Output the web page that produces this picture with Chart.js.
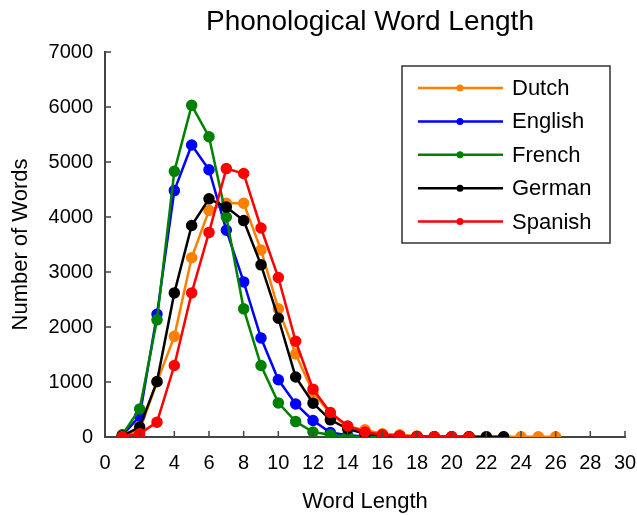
<!DOCTYPE html>
<html>
<head>
<meta charset="utf-8">
<script src="https://cdn.jsdelivr.net/npm/chart.js@4.4.1/dist/chart.umd.min.js"></script>
<style>
  body { margin: 0; background: #fff; }
  #wrap { width: 637px; height: 515px; }
</style>
</head>
<body>
<div id="wrap"><canvas id="myChart" width="637" height="515"></canvas></div>
<script>
// word length (x) values
const wordLengths = [1, 2, 3, 4, 5, 6, 7, 8, 9, 10, 11, 12, 13, 14, 15, 16, 17, 18, 19, 20, 21, 22, 23, 24, 25, 26]

const languages = ['Dutch', 'English', 'French', 'German', 'Spanish']
const colors = ['#ff8000', '#0000ff', '#008000', '#000000', '#ff0000']

// number of words per length
const dutch   = [30, 120, 1000, 1830, 3260, 4120, 4250, 4250, 3400, 2330, 1510, 810, 420, 190, 130, 60, 40, 20, 10, 10, 8, 6, 5, 5, 5, 5]
const english = [30, 380, 2230, 4480, 5310, 4860, 3760, 2820, 1800, 1040, 600, 300, 80, 30, 10, 5, 3, 2]
const french  = [40, 510, 2130, 4830, 6030, 5460, 4000, 2330, 1300, 620, 280, 90, 40, 10, 5, 3, 2, 1]
const german  = [20, 180, 1010, 2620, 3845, 4330, 4180, 3935, 3130, 2160, 1090, 615, 312, 150, 60, 30, 15, 8, 5, 4, 3, 4, 4]
const spanish = [10, 60, 270, 1300, 2620, 3720, 4880, 4790, 3800, 2900, 1740, 870, 445, 200, 90, 40, 20, 10, 5, 3, 2]

const series = [dutch, english, french, german, spanish]

const xTicks = [0, 2, 4, 6, 8, 10, 12, 14, 16, 18, 20, 22, 24, 26, 28, 30]
const yTicks = [0, 1000, 2000, 3000, 4000, 5000, 6000, 7000]

const titleText = 'Phonological Word Length'
const axisColor = '#444'
const font = 'Liberation Sans, Arial, sans-serif'

let datasets = series.map((vals, i) => ({
    label: languages[i],
    data: vals.map((v, j) => ({ x: wordLengths[j], y: v })),
    borderColor: colors[i],
    backgroundColor: colors[i],
    borderWidth: 2.5,
    pointRadius: 4.5,
    pointHoverRadius: 4.5,
    tension: 0,
    order: series.length - i
}))

// inward tick marks, title and boxed legend
const decor = {
    id: 'decor',
    afterDraw(chart) {
        const ctx = chart.ctx
        const a = chart.chartArea
        const xs = chart.scales.x, ys = chart.scales.y
        ctx.save()
        ctx.strokeStyle = axisColor
        ctx.lineWidth = 1.5
        ctx.beginPath()
        xTicks.forEach(t => {
            let px = xs.getPixelForValue(t)
            ctx.moveTo(px, a.bottom)
            ctx.lineTo(px, a.bottom - 6)
        })
        yTicks.forEach(t => {
            let py = ys.getPixelForValue(t)
            ctx.moveTo(a.left, py)
            ctx.lineTo(a.left + 6, py)
        })
        ctx.stroke()

        // title
        ctx.fillStyle = '#000'
        ctx.font = '28px ' + font
        ctx.textAlign = 'center'
        ctx.textBaseline = 'middle'
        ctx.fillText(titleText, (a.left + a.right) / 2 + 5, 22)

        // legend
        let bx = a.right - 223, by = a.top + 14, bw = 208, bh = 177
        ctx.fillStyle = '#fff'
        ctx.fillRect(bx, by, bw, bh)
        ctx.strokeStyle = '#333'
        ctx.lineWidth = 1.5
        ctx.strokeRect(bx, by, bw, bh)
        ctx.font = '22px ' + font
        ctx.textAlign = 'left'
        chart.data.datasets.forEach((ds, i) => {
            let cy = by + 22 + i * 33.4
            ctx.strokeStyle = ds.borderColor
            ctx.lineWidth = 2.5
            ctx.beginPath()
            ctx.moveTo(bx + 16, cy)
            ctx.lineTo(bx + 101, cy)
            ctx.stroke()
            ctx.fillStyle = ds.borderColor
            ctx.beginPath()
            ctx.arc(bx + 58, cy, 3.5, 0, Math.PI * 2)
            ctx.fill()
            ctx.fillStyle = '#000'
            ctx.fillText(ds.label, bx + 110, cy + 1)
        })
        ctx.restore()
    }
}

const chart = new Chart(document.getElementById('myChart'), {
    type: 'line',
    data: { datasets: datasets },
    options: {
        responsive: false,
        animation: false,
        layout: { padding: { top: 52, right: 0, left: 0, bottom: 0 } },
        plugins: {
            legend: { display: false },
            title: { display: false },
            tooltip: { enabled: false }
        },
        scales: {
            x: {
                type: 'linear',
                min: 0,
                max: 30,
                afterFit(scale) { scale.height = 78; scale.paddingRight = 12 },
                afterBuildTicks(scale) { scale.ticks = xTicks.map(v => ({ value: v })) },
                grid: { drawOnChartArea: false, drawTicks: false },
                border: { display: true, color: axisColor, width: 2 },
                ticks: { color: '#000', font: { family: font, size: 20 }, padding: 14, maxRotation: 0, callback: v => String(v) },
                title: { display: true, text: 'Word Length', color: '#000', font: { family: font, size: 22 }, padding: { top: 4, bottom: 0 } }
            },
            y: {
                min: 0,
                max: 7000,
                afterFit(scale) { scale.width = 105 },
                afterBuildTicks(scale) { scale.ticks = yTicks.map(v => ({ value: v })) },
                grid: { drawOnChartArea: false, drawTicks: false },
                border: { display: true, color: axisColor, width: 2 },
                ticks: { color: '#000', font: { family: font, size: 20 }, padding: 12, callback: v => String(v) },
                title: { display: true, text: 'Number of Words', color: '#000', font: { family: font, size: 22 }, padding: { top: 8, bottom: 0 } }
            }
        }
    },
    plugins: [decor]
})
</script>
</body>
</html>
